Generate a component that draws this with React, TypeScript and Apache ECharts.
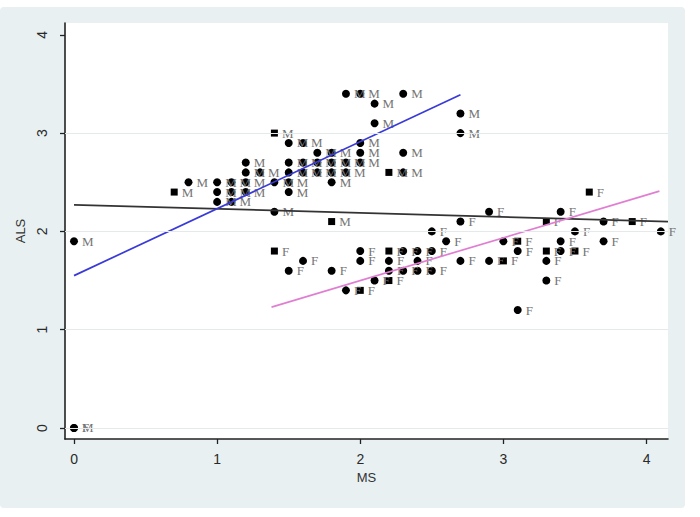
import React, { useEffect, useRef } from "react";
import * as echarts from "echarts";

// [MS, ALS] pairs
const maleCircles: [number, number][] = [
  [0, 1.9], [0, 0],
  [0.8, 2.5],
  [1.0, 2.5], [1.0, 2.4], [1.0, 2.3],
  [1.1, 2.5], [1.1, 2.4], [1.1, 2.3],
  [1.2, 2.7], [1.2, 2.6], [1.2, 2.5], [1.2, 2.4],
  [1.3, 2.6],
  [1.4, 2.5], [1.4, 2.2],
  [1.5, 2.9], [1.5, 2.7], [1.5, 2.6], [1.5, 2.5], [1.5, 2.4],
  [1.6, 2.9], [1.6, 2.7], [1.6, 2.6],
  [1.7, 2.8], [1.7, 2.7], [1.7, 2.6],
  [1.8, 2.8], [1.8, 2.7], [1.8, 2.6], [1.8, 2.5],
  [1.9, 3.4], [1.9, 2.7], [1.9, 2.6],
  [2.0, 3.4], [2.0, 2.9], [2.0, 2.8], [2.0, 2.7],
  [2.1, 3.3], [2.1, 3.1],
  [2.3, 3.4], [2.3, 2.8], [2.3, 2.6],
  [2.7, 3.2], [2.7, 3.0],
];
const maleSquares: [number, number][] = [
  [0.7, 2.4], [1.4, 3.0], [1.8, 2.1], [2.2, 2.6],
];
const femaleCircles: [number, number][] = [
  [0, 0],
  [1.5, 1.6], [1.6, 1.7], [1.8, 1.6], [1.9, 1.4],
  [2.0, 1.8], [2.0, 1.7],
  [2.1, 1.5],
  [2.2, 1.7], [2.2, 1.6],
  [2.3, 1.8], [2.3, 1.6],
  [2.4, 1.8], [2.4, 1.7], [2.4, 1.6],
  [2.5, 2.0], [2.5, 1.8], [2.5, 1.6],
  [2.6, 1.9],
  [2.7, 2.1], [2.7, 1.7],
  [2.9, 2.2], [2.9, 1.7],
  [3.0, 1.9],
  [3.1, 1.8], [3.1, 1.2],
  [3.3, 1.7], [3.3, 1.5],
  [3.4, 2.2], [3.4, 1.9], [3.4, 1.8],
  [3.5, 2.0],
  [3.7, 2.1], [3.7, 1.9],
  [4.1, 2.0],
];
const femaleSquares: [number, number][] = [
  [1.4, 1.8], [2.0, 1.4], [2.2, 1.8], [2.2, 1.5], [3.0, 1.7], [3.1, 1.9],
  [3.3, 2.1], [3.3, 1.8], [3.5, 1.8], [3.6, 2.4], [3.9, 2.1],
];

// fitted lines, endpoints
const maleFit: [number, number][] = [[0, 1.55], [2.7, 3.39]];
const femaleFit: [number, number][] = [[1.38, 1.23], [4.09, 2.41]];
const allFit: [number, number][] = [[0, 2.27], [4.15, 2.1]];

const tickValues = [0, 1, 2, 3, 4];
const gridValues = [0, 1, 2, 3];

const labelStyle = {
  show: true,
  position: "right" as const,
  distance: 4,
  color: "#747474",
  fontSize: 13,
  fontFamily: "Liberation Serif",
};

function scatter(data: [number, number][], symbol: string, size: number, text: string) {
  return {
    type: "scatter",
    data,
    symbol,
    symbolSize: size,
    itemStyle: { color: "#000", opacity: 1 },
    label: { ...labelStyle, formatter: text },
    z: 3,
    silent: true,
  };
}

function fit(data: [number, number][], color: string) {
  return {
    type: "line",
    data,
    showSymbol: false,
    symbol: "none",
    lineStyle: { color, width: 1.7 },
    z: 4,
    silent: true,
  };
}

export default function App() {
  const ref = useRef<HTMLDivElement>(null);
  useEffect(() => {
    if (!ref.current) return;
    const chart = echarts.init(ref.current, undefined, { renderer: "svg" });
    const axisCommon = {
      type: "value" as const,
      nameLocation: "middle" as const,
      nameTextStyle: { color: "#333", fontSize: 13, fontFamily: "Liberation Sans" },
      axisLine: { show: true, onZero: false, lineStyle: { color: "#222", width: 1.6 } },
      axisTick: { show: true, length: 5, customValues: tickValues, lineStyle: { color: "#222", width: 1.3 } },
      splitLine: { show: false },
      axisLabel: {
        customValues: tickValues,
        color: "#2a2a2a",
        fontSize: 14,
        fontFamily: "Liberation Sans",
      },
    };
    chart.setOption({
      animation: false,
      backgroundColor: "transparent",
      grid: {
        left: 65,
        right: 32,
        top: 23,
        bottom: 78,
        show: true,
        backgroundColor: "#ffffff",
        borderWidth: 0,
      },
      xAxis: {
        ...axisCommon,
        name: "MS",
        nameGap: 24,
        min: -0.063,
        max: 4.15,
        axisLabel: { ...axisCommon.axisLabel, margin: 13 },
      },
      yAxis: {
        ...axisCommon,
        name: "ALS",
        nameGap: 38,
        min: -0.112,
        max: 4.12,
        axisLabel: { ...axisCommon.axisLabel, rotate: 90, margin: 16 },
      },
      series: [
        {
          type: "line",
          data: [[0, 0]],
          showSymbol: false,
          lineStyle: { width: 0 },
          silent: true,
          z: 1,
          markLine: {
            silent: true,
            symbol: "none",
            label: { show: false },
            lineStyle: { color: "#e4eaec", width: 1, type: "solid" },
            data: gridValues.map((v) => ({ yAxis: v })),
          },
        },
        scatter(maleCircles, "circle", 8, "M"),
        scatter(maleSquares, "rect", 7, "M"),
        scatter(femaleCircles, "circle", 8, "F"),
        scatter(femaleSquares, "rect", 7, "F"),
        fit(allFit, "#333333"),
        fit(maleFit, "#3a3ad8"),
        fit(femaleFit, "#e07fd2"),
      ],
    });
    return () => chart.dispose();
  }, []);
  return (
    <div style={{ position: "fixed", left: 0, top: 0, width: 700, height: 517, background: "#ffffff" }}>
      <div
        style={{
          position: "absolute",
          left: 0,
          top: 7,
          width: 685,
          height: 501,
          background: "#e8f0f2",
          borderRadius: 4,
        }}
      />
      <div ref={ref} style={{ position: "absolute", left: 0, top: 0, width: 700, height: 517 }} />
    </div>
  );
}
